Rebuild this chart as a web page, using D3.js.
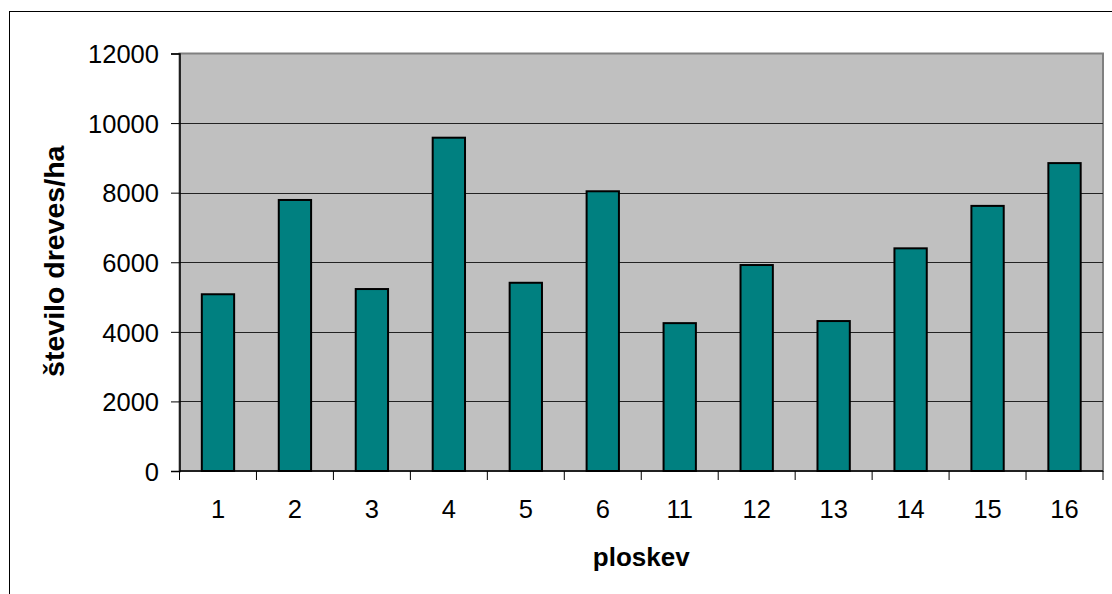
<!DOCTYPE html>
<html>
<head>
<meta charset="utf-8">
<script src="https://cdn.jsdelivr.net/npm/d3@7"></script>
<style>
  html, body { margin: 0; padding: 0; background: #fff; }
  svg { display: block; }
  text { font-family: "Liberation Sans", Arial, sans-serif; fill: #000; }
</style>
</head>
<body>
<svg id="chart" width="1112" height="594"></svg>
<script>
// Tree density per sample plot
const plots = ["1", "2", "3", "4", "5", "6", "11", "12", "13", "14", "15", "16"];
const treesPerHa = [5080, 7790, 5230, 9580, 5410, 8040, 4250, 5920, 4310, 6400, 7620, 8850];
const yTicks = [0, 2000, 4000, 6000, 8000, 10000, 12000];

const svg = d3.select("#chart");
const plot = { left: 179.5, right: 1103, top: 53.5, bottom: 471 };

// Outer chart frame
svg.append("rect")
  .attr("x", 9.5).attr("y", 11.5)
  .attr("width", 1300).attr("height", 800)
  .attr("fill", "#fff").attr("stroke", "#000").attr("stroke-width", 1);

const x = d3.scaleBand().domain(plots).range([plot.left, plot.right]).paddingInner(0.58).paddingOuter(0.29);
const xCat = d3.scaleBand().domain(plots).range([plot.left, plot.right]);
const y = d3.scaleLinear().domain([0, 12000]).range([plot.bottom, plot.top]);

// Plot background
svg.append("rect")
  .attr("x", plot.left).attr("y", plot.top)
  .attr("width", plot.right - plot.left).attr("height", plot.bottom - plot.top)
  .attr("fill", "#c0c0c0").attr("stroke", "#808080").attr("stroke-width", 2);

// Horizontal gridlines
svg.append("g").selectAll("line")
  .data(yTicks.filter(d => d > 0 && d < 12000))
  .join("line")
  .attr("x1", plot.left).attr("x2", plot.right)
  .attr("y1", d => Math.round(y(d)) + 0.5).attr("y2", d => Math.round(y(d)) + 0.5)
  .attr("stroke", "#222").attr("stroke-width", 1);

// Bars
svg.append("g").selectAll("rect")
  .data(treesPerHa)
  .join("rect")
  .attr("x", (d, i) => x(plots[i]))
  .attr("y", d => y(d))
  .attr("width", x.bandwidth())
  .attr("height", d => y(0) - y(d))
  .attr("fill", "#008080")
  .attr("stroke", "#000")
  .attr("stroke-width", 2);

// Y axis
const yAxis = d3.axisLeft(y).tickValues(yTicks).tickSize(8.5).tickPadding(12).tickFormat(d3.format("d"));
const gy = svg.append("g").attr("transform", `translate(${plot.left},0)`).call(yAxis);
gy.select(".domain").attr("stroke", "#000").attr("stroke-width", 1.5);
gy.selectAll(".tick line").attr("stroke", "#000");
gy.selectAll("text").attr("font-size", "25.5px").attr("fill", "#000").attr("dy", "0.36em")
  .style("font-family", "'Liberation Sans', Arial, sans-serif");

// X axis: ticks at category boundaries, labels at centres
const gx = svg.append("g").attr("transform", `translate(0,${plot.bottom})`);
gx.append("line")
  .attr("x1", plot.left).attr("x2", plot.right)
  .attr("y1", 0).attr("y2", 0)
  .attr("stroke", "#000").attr("stroke-width", 1.5);
const bounds = plots.map(p => xCat(p)).concat([plot.right]);
gx.selectAll("line.tk").data(bounds).join("line").attr("class", "tk")
  .attr("x1", d => d).attr("x2", d => d)
  .attr("y1", 0).attr("y2", 9)
  .attr("stroke", "#000").attr("stroke-width", 1);
gx.selectAll("text").data(plots).join("text")
  .attr("x", d => xCat(d) + xCat.bandwidth() / 2)
  .attr("y", 47)
  .attr("text-anchor", "middle")
  .attr("font-size", "25.5px")
  .text(d => d);

// Axis titles
svg.append("text")
  .attr("x", (plot.left + plot.right) / 2).attr("y", 565.5)
  .attr("text-anchor", "middle")
  .attr("font-size", "26px").attr("font-weight", "bold")
  .text("ploskev");

svg.append("text")
  .attr("transform", `translate(63.5,${(plot.top + plot.bottom) / 2 - 1}) rotate(-90)`)
  .attr("text-anchor", "middle")
  .attr("font-size", "28.5px").attr("font-weight", "bold")
  .text("število dreves/ha");
</script>
</body>
</html>
